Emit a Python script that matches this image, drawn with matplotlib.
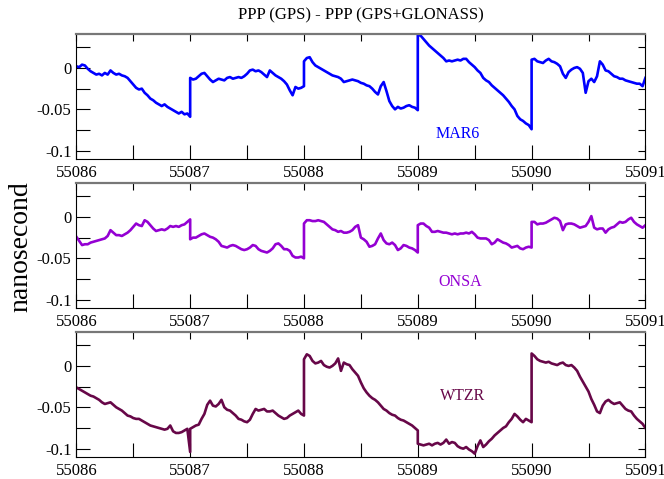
import numpy as np
import matplotlib
matplotlib.use("Agg")
import matplotlib.pyplot as plt

plt.rcParams['font.family'] = ['Liberation Serif', 'DejaVu Serif']
plt.rcParams['axes.unicode_minus'] = False

# days (MJD), each day sampled at 41 points from day start to day end
days = [55086, 55087, 55088, 55089, 55090]
per_day = 41

# PPP(GPS) - PPP(GPS+GLONASS) clock difference, ns (three lines per day)
mar6 = [
    0.002, 0.001, 0.004, 0.003, -0.001, -0.004, -0.006, -0.008, -0.007, -0.009, -0.006, -0.008, -0.003, -0.006,
    -0.008, -0.007, -0.009, -0.010, -0.012, -0.016, -0.020, -0.024, -0.026, -0.025, -0.030, -0.033, -0.037, -0.039,
    -0.042, -0.044, -0.046, -0.044, -0.047, -0.049, -0.051, -0.053, -0.055, -0.053, -0.056, -0.055, -0.059,
    -0.012, -0.014, -0.013, -0.010, -0.007, -0.006, -0.010, -0.014, -0.017, -0.015, -0.013, -0.014, -0.015, -0.012,
    -0.011, -0.013, -0.012, -0.011, -0.012, -0.010, -0.007, -0.003, -0.002, -0.004, -0.003, -0.005, -0.008, -0.011,
    -0.003, -0.006, -0.009, -0.011, -0.013, -0.016, -0.020, -0.027, -0.033, -0.023, -0.025, -0.024, -0.022,
    0.008, 0.012, 0.013, 0.007, 0.003, 0.001, -0.001, -0.003, -0.005, -0.007, -0.009, -0.010, -0.011, -0.013,
    -0.017, -0.016, -0.015, -0.014, -0.015, -0.016, -0.018, -0.019, -0.021, -0.022, -0.025, -0.029, -0.032, -0.022,
    -0.017, -0.028, -0.040, -0.046, -0.050, -0.047, -0.049, -0.048, -0.046, -0.045, -0.047, -0.048, -0.051,
    0.040, 0.039, 0.035, 0.031, 0.027, 0.024, 0.021, 0.018, 0.015, 0.012, 0.008, 0.009, 0.008, 0.009,
    0.010, 0.009, 0.011, 0.011, 0.007, 0.004, 0.001, -0.003, -0.006, -0.012, -0.015, -0.017, -0.021, -0.024,
    -0.027, -0.030, -0.033, -0.037, -0.041, -0.046, -0.050, -0.058, -0.062, -0.064, -0.067, -0.069, -0.074,
    0.010, 0.011, 0.008, 0.007, 0.006, 0.009, 0.011, 0.008, 0.007, 0.005, 0.002, -0.007, -0.012, -0.005,
    -0.002, 0.000, 0.001, -0.001, -0.006, -0.030, -0.016, -0.013, -0.017, -0.010, 0.008, 0.004, -0.003, -0.004,
    -0.007, -0.010, -0.011, -0.013, -0.013, -0.015, -0.016, -0.017, -0.018, -0.019, -0.019, -0.022, -0.012,
]

onsa = [
    -0.024, -0.029, -0.034, -0.033, -0.033, -0.031, -0.030, -0.029, -0.028, -0.027, -0.026, -0.023, -0.016, -0.019,
    -0.022, -0.022, -0.023, -0.021, -0.019, -0.016, -0.012, -0.008, -0.010, -0.011, -0.004, -0.006, -0.010, -0.014,
    -0.017, -0.016, -0.015, -0.016, -0.014, -0.011, -0.012, -0.011, -0.012, -0.010, -0.009, -0.006, -0.003,
    -0.027, -0.025, -0.025, -0.023, -0.021, -0.020, -0.022, -0.024, -0.025, -0.027, -0.030, -0.035, -0.036, -0.037,
    -0.035, -0.034, -0.035, -0.037, -0.039, -0.040, -0.039, -0.037, -0.034, -0.035, -0.039, -0.041, -0.042, -0.043,
    -0.041, -0.038, -0.033, -0.032, -0.035, -0.039, -0.039, -0.041, -0.047, -0.049, -0.049, -0.048, -0.050,
    -0.008, -0.004, -0.004, -0.005, -0.005, -0.004, -0.005, -0.006, -0.009, -0.012, -0.015, -0.016, -0.018, -0.017,
    -0.019, -0.019, -0.018, -0.016, -0.012, -0.010, -0.025, -0.027, -0.030, -0.036, -0.035, -0.033, -0.026, -0.020,
    -0.028, -0.032, -0.033, -0.031, -0.034, -0.040, -0.038, -0.034, -0.035, -0.037, -0.038, -0.040, -0.043,
    -0.010, -0.008, -0.008, -0.011, -0.013, -0.018, -0.018, -0.017, -0.018, -0.019, -0.019, -0.020, -0.021, -0.020,
    -0.021, -0.020, -0.020, -0.019, -0.020, -0.018, -0.021, -0.025, -0.026, -0.026, -0.026, -0.028, -0.033, -0.031,
    -0.027, -0.029, -0.031, -0.032, -0.034, -0.037, -0.036, -0.035, -0.038, -0.039, -0.037, -0.036, -0.037,
    -0.006, -0.006, -0.009, -0.008, -0.008, -0.007, -0.005, -0.003, -0.001, -0.002, -0.005, -0.016, -0.009, -0.008,
    -0.008, -0.009, -0.011, -0.013, -0.012, -0.011, -0.006, 0.001, -0.013, -0.015, -0.014, -0.014, -0.019, -0.015,
    -0.013, -0.012, -0.009, -0.006, -0.007, -0.006, -0.003, -0.001, -0.006, -0.009, -0.011, -0.013, -0.010,
]

wtzr = [
    -0.026, -0.028, -0.030, -0.032, -0.034, -0.036, -0.037, -0.039, -0.041, -0.044, -0.046, -0.045, -0.044, -0.047,
    -0.050, -0.052, -0.054, -0.057, -0.060, -0.061, -0.063, -0.064, -0.064, -0.066, -0.068, -0.070, -0.072, -0.073,
    -0.074, -0.075, -0.076, -0.077, -0.076, -0.072, -0.079, -0.081, -0.081, -0.080, -0.078, -0.076, -0.104,
    -0.076, -0.074, -0.072, -0.071, -0.064, -0.058, -0.047, -0.042, -0.048, -0.049, -0.046, -0.041, -0.050, -0.053,
    -0.054, -0.057, -0.060, -0.064, -0.065, -0.067, -0.068, -0.065, -0.058, -0.052, -0.054, -0.053, -0.052, -0.055,
    -0.055, -0.054, -0.057, -0.060, -0.062, -0.064, -0.063, -0.060, -0.058, -0.056, -0.054, -0.058, -0.060,
    0.008, 0.014, 0.012, 0.006, 0.003, 0.004, 0.006, 0.001, -0.001, -0.002, 0.000, 0.003, 0.009, -0.006,
    0.004, 0.002, 0.001, -0.004, -0.008, -0.012, -0.020, -0.027, -0.032, -0.036, -0.039, -0.041, -0.044, -0.048,
    -0.052, -0.054, -0.057, -0.059, -0.060, -0.063, -0.065, -0.066, -0.068, -0.070, -0.072, -0.075, -0.078,
    -0.094, -0.095, -0.096, -0.095, -0.094, -0.096, -0.094, -0.093, -0.095, -0.093, -0.089, -0.094, -0.092, -0.093,
    -0.097, -0.099, -0.100, -0.098, -0.101, -0.103, -0.106, -0.097, -0.090, -0.098, -0.095, -0.091, -0.088, -0.084,
    -0.081, -0.078, -0.075, -0.073, -0.068, -0.064, -0.058, -0.061, -0.065, -0.068, -0.064, -0.066, -0.068,
    0.015, 0.012, 0.008, 0.006, 0.005, 0.004, 0.005, 0.003, 0.002, 0.001, 0.003, 0.004, 0.001, 0.000,
    0.001, -0.002, -0.006, -0.013, -0.019, -0.025, -0.031, -0.040, -0.047, -0.055, -0.057, -0.048, -0.043, -0.041,
    -0.044, -0.046, -0.045, -0.044, -0.048, -0.052, -0.054, -0.055, -0.060, -0.064, -0.067, -0.070, -0.075,
]

stations = ['MAR6', 'ONSA', 'WTZR']
series = [mar6, onsa, wtzr]
colors = ['#0000ff', '#9400d3', '#670748']
label_pos = [(55089.35, -0.080), (55089.37, -0.079), (55089.39, -0.036)]

x_ticks = [55086, 55087, 55088, 55089, 55090, 55091]
x_minor = [55086.5, 55087.5, 55088.5, 55089.5, 55090.5]
y_ticks = [-0.1, -0.05, 0]
y_tick_labels = ['-0.1', '-0.05', '0']
y_minor = [-0.075, -0.025, 0.025]

t = np.concatenate([np.linspace(d, d + 1, per_day) for d in days])

fig = plt.figure(figsize=(6.64, 4.79), dpi=100)
bottoms = [0.668, 0.357, 0.046]
for i, (name, vals, col) in enumerate(zip(stations, series, colors)):
    ax = fig.add_axes([0.115, bottoms[i], 0.857, 0.261])
    ax.plot(t, vals, color=col, lw=1.9)
    ax.set_xlim(55086, 55091)
    ax.set_ylim(-0.11, 0.041)
    ax.set_xticks(x_ticks)
    ax.set_xticks(x_minor, minor=True)
    ax.set_xticklabels([str(v) for v in x_ticks])
    ax.set_yticks(y_ticks)
    ax.set_yticks(y_minor, minor=True)
    ax.set_yticklabels(y_tick_labels)
    ax.tick_params(which='both', direction='in', length=10, width=0.8,
                   labelsize=12, top=False, right=False)
    ax.tick_params(axis='x', pad=4)
    # shorter ticks on the top and right edges
    sx = ax.secondary_xaxis('top')
    sx.set_xticks(x_ticks + x_minor)
    sx.tick_params(direction='in', length=5, width=0.8, labeltop=False)
    sy = ax.secondary_yaxis('right')
    sy.set_yticks(y_ticks + y_minor)
    sy.tick_params(direction='in', length=5, width=0.8, labelright=False)
    for s in ['top', 'bottom', 'left', 'right']:
        ax.spines[s].set_linewidth(0.8)
    sx.spines['top'].set_visible(False)
    sy.spines['right'].set_visible(False)
    ax.spines['top'].set_color('#777777')
    ax.spines['top'].set_linewidth(1.6)
    ax.text(label_pos[i][0], label_pos[i][1], name, color=col, fontsize=11.5,
            ha='center', va='center')

fig.text(0.543, 0.968, 'PPP (GPS) - PPP (GPS+GLONASS)', ha='center', va='center', fontsize=12)
fig.text(0.032, 0.485, 'nanosecond', rotation=90, ha='center', va='center', fontsize=20)

fig.savefig('out.png', dpi=100)
